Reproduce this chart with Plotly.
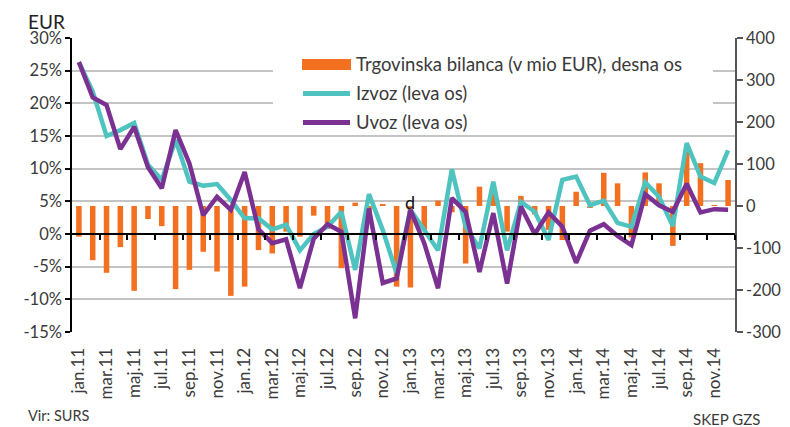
import plotly.graph_objects as go

# ---- data ----
months = ["jan.11","feb.11","mar.11","apr.11","maj.11","jun.11","jul.11","avg.11","sep.11","okt.11","nov.11","dec.11",
          "jan.12","feb.12","mar.12","apr.12","maj.12","jun.12","jul.12","avg.12","sep.12","okt.12","nov.12","dec.12",
          "jan.13","feb.13","mar.13","apr.13","maj.13","jun.13","jul.13","avg.13","sep.13","okt.13","nov.13","dec.13",
          "jan.14","feb.14","mar.14","apr.14","maj.14","jun.14","jul.14","avg.14","sep.14","okt.14","nov.14","dec.14"]

izvoz = [26.3, 21.8, 15.0, 15.9, 17.0, 10.6, 8.3, 14.4, 8.0, 7.4, 7.65, 5.2,
         2.4, 2.4, 0.7, 1.4, -2.5, 0.0, 1.1, 3.4, -5.5, 6.1, 0.6, -6.0,
         3.7, 0.7, -2.5, 9.9, 1.1, -2.2, 8.0, -2.5, 4.9, 3.4, -0.9, 8.3,
         8.8, 4.4, 5.1, 1.7, 1.1, 7.9, 5.7, 1.2, 13.9, 8.8, 7.8, 12.8]

uvoz = [26.3, 20.9, 19.75, 13.0, 16.4, 10.2, 7.0, 15.9, 10.8, 2.9, 5.7, 3.7,
        9.5, 0.7, -1.4, -0.8, -8.3, -0.7, 1.5, 0.35, -12.9, 3.9, -7.5, -6.8,
        3.7, -1.4, -8.3, 5.5, 3.4, -5.8, 3.2, -7.6, 4.2, 0.0, 3.3, 1.1,
        -4.4, 0.5, 1.5, -0.3, -1.7, 6.1, 4.4, 3.4, 7.7, 3.3, 3.8, 3.7]

bilanca = [-73, -129, -159, -98, -202, -31, -48, -198, -152, -109, -156, -214,
           -192, -105, -113, -61, -73, -23, -55, -148, 8, -40, 4, -192,
           -194, -57, 13, -15, -137, 46, 30, -61, 24, -20, -57, -81,
           34, -3, 79, 54, -75, 80, 54, -95, 129, 102, 2, 62]

left_ticks = [-15, -10, -5, 0, 5, 10, 15, 20, 25, 30]
left_labels = ["-15%", "-10%", "-5%", "0%", "5%", "10%", "15%", "20%", "25%", "30%"]
right_ticks = [-300, -200, -100, 0, 100, 200, 300, 400]
right_labels = ["-300", "-200", "-100", "0", "100", "200", "300", "400"]

names = ["Trgovinska bilanca (v mio EUR), desna os", "Izvoz (leva os)", "Uvoz (leva os)"]

ORANGE = "#F37021"
TEAL = "#4FC3BF"
PURPLE = "#7B3192"
TXT = "#3a3a3a"
FONT = "Lato"

idx = list(range(len(months)))
label_pos = idx[::2]
label_txt = months[::2]
bound_ticks = [i + 1.5 for i in idx[::2]]

fig = go.Figure()
fig.add_trace(go.Bar(x=idx, y=bilanca, name=names[0], marker=dict(color=ORANGE, line=dict(width=0)),
                     width=0.4, xaxis="x", yaxis="y", showlegend=False))
fig.add_trace(go.Scatter(x=idx, y=izvoz, name=names[1], mode="lines", line=dict(color=TEAL, width=4.5),
                         xaxis="x2", yaxis="y2", showlegend=False))
fig.add_trace(go.Scatter(x=idx, y=uvoz, name=names[2], mode="lines", line=dict(color=PURPLE, width=4.5),
                         xaxis="x2", yaxis="y2", showlegend=False))

# page body has an 8px margin: figure coordinates = window coordinates - 8
OFF = 8
W, H = 790 - OFF, 427 - OFF
L, R, T, B = 72 - OFF, 735 - OFF, 38 - OFF, 332 - OFF
def px(x):
    return (x - OFF - L) / (R - L)
def py(y):
    return (B - (y - OFF)) / (B - T)

shapes = [
    dict(type="rect", xref="paper", yref="paper", x0=px(273), x1=px(713), y0=py(134), y1=py(39.5),
         fillcolor="white", line=dict(width=0), layer="above"),
    dict(type="rect", xref="paper", yref="paper", x0=px(302), x1=px(351), y0=py(70), y1=py(59),
         fillcolor=ORANGE, line=dict(width=0), layer="above"),
    dict(type="line", xref="paper", yref="paper", x0=px(303), x1=px(350), y0=py(93.5), y1=py(93.5),
         line=dict(color=TEAL, width=5), layer="above"),
    dict(type="line", xref="paper", yref="paper", x0=px(303), x1=px(350), y0=py(122.5), y1=py(122.5),
         line=dict(color=PURPLE, width=5), layer="above"),
]

LEG = 18.5
annotations = [
    dict(text=names[0], xref="paper", yref="paper", x=px(354), y=py(64), xanchor="left", yanchor="middle",
         showarrow=False, font=dict(family=FONT, size=LEG, color=TXT)),
    dict(text=names[1], xref="paper", yref="paper", x=px(354), y=py(93), xanchor="left", yanchor="middle",
         showarrow=False, font=dict(family=FONT, size=LEG, color=TXT)),
    dict(text=names[2], xref="paper", yref="paper", x=px(354), y=py(122), xanchor="left", yanchor="middle",
         showarrow=False, font=dict(family=FONT, size=LEG, color=TXT)),
    dict(text="EUR", xref="paper", yref="paper", x=px(26), y=py(8), xanchor="left", yanchor="top",
         showarrow=False, font=dict(family=FONT, size=19, color="#222222")),
    dict(text="d", xref="x2", yref="y2", x=24, y=4.9, xanchor="center", yanchor="middle",
         showarrow=False, font=dict(family=FONT, size=18, color="#111111")),
    dict(text="Vir: SURS", xref="paper", yref="paper", x=px(26), y=py(416), xanchor="left", yanchor="middle",
         showarrow=False, font=dict(family=FONT, size=14.5, color=TXT)),
    dict(text="SKEP GZS", xref="paper", yref="paper", x=px(691), y=py(419), xanchor="left", yanchor="middle",
         showarrow=False, font=dict(family=FONT, size=15, color=TXT)),
]

fig.update_layout(
    width=W, height=H,
    margin=dict(l=L, r=W - R, t=T, b=H - B, pad=0, autoexpand=False),
    paper_bgcolor="white", plot_bgcolor="white",
    font=dict(family=FONT, size=16, color=TXT),
    barmode="overlay",
    xaxis=dict(range=[-0.5, 47.5], tickmode="array", tickvals=label_pos, ticktext=label_txt,
               tickangle=-90, ticks="outside", ticklen=8, tickcolor="rgba(0,0,0,0)",
               showgrid=False, zeroline=False, showline=False, automargin=False,
               tickfont=dict(family=FONT, size=17, color=TXT)),
    yaxis=dict(range=[-300, 400], side="right", tickmode="array", tickvals=right_ticks, ticktext=right_labels,
               showgrid=False, zeroline=False, showline=True, linecolor="#555555", linewidth=1.5,
               ticks="outside", ticklen=6, tickcolor="#555555", tickwidth=1.5, automargin=False,
               tickfont=dict(family=FONT, size=16.5, color=TXT)),
    xaxis2=dict(overlaying="x", matches="x", anchor="free", position=py(234), side="bottom",
                tickmode="array", tickvals=bound_ticks, ticks="outside", ticklen=5, tickcolor="#000000",
                tickwidth=1.5, showticklabels=False, showgrid=False, zeroline=False,
                showline=True, linecolor="#000000", linewidth=1.5),
    yaxis2=dict(range=[-15, 30], overlaying="y", side="left", anchor="x2", tickmode="array",
                tickvals=left_ticks, ticktext=left_labels, automargin=False,
                showgrid=True, gridcolor="#c4c4c4", gridwidth=1.5, zeroline=False,
                showline=True, linecolor="#000000", linewidth=1.5,
                ticks="outside", ticklen=5, tickcolor="#000000", tickwidth=1.5,
                tickfont=dict(family=FONT, size=16.5, color=TXT)),
    shapes=shapes,
    annotations=annotations,
    showlegend=False,
)

fig.write_html("out.html")
